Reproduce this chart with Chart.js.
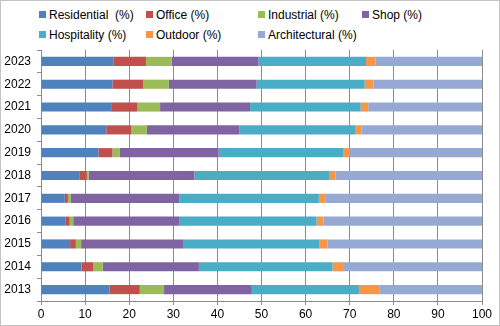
<!DOCTYPE html>
<html lang="en">
<head>
<meta charset="UTF-8">
<title>Share by sector</title>
<style>
    body { margin: 0; }
    .box {
        position: relative;
        width: 500px;
        height: 326px;
        border: 1px solid #c4c4c4;
        box-sizing: border-box;
        background: #fff;
        font-family: "Liberation Sans", Arial, sans-serif;
    }
    .legend span {
        position: absolute;
        font-size: 12px;
        color: #000;
        white-space: pre;
        line-height: 14px;
    }
    .legend i {
        display: inline-block;
        width: 7px;
        height: 7px;
        margin-right: 3px;
        vertical-align: 1px;
    }
    canvas { position: absolute; left: 0; top: 0; }
</style>
</head>
<body>
<div class="box">
    <div class="legend" id="legend"></div>
    <canvas id="myChart" width="498" height="324"></canvas>
</div>
<script src="https://cdn.jsdelivr.net/npm/chart.js@4/dist/chart.umd.min.js"></script>
<script>
    // years top to bottom, as in the picture
    const years = ['2023', '2022', '2021', '2020', '2019', '2018', '2017', '2016', '2015', '2014', '2013'];

    const residential   = [16.5, 16.2, 15.9, 14.8, 13.0, 8.8, 5.4, 5.5, 6.6, 9.2, 15.5];
    const office        = [7.3, 7.0, 6.0, 5.7, 3.2, 1.6, 0.7, 1.0, 1.3, 2.6, 6.9];
    const industrial    = [5.8, 5.8, 5.1, 3.5, 1.7, 0.4, 0.6, 0.8, 1.2, 2.2, 5.5];
    const shop          = [19.7, 19.9, 20.4, 21.0, 22.4, 24.0, 24.7, 24.0, 23.1, 21.8, 19.9];
    const hospitality   = [24.4, 24.5, 25.1, 26.2, 28.2, 30.5, 31.6, 31.2, 30.9, 30.3, 24.3];
    const outdoor       = [2.1, 2.0, 1.7, 1.5, 1.5, 1.5, 1.6, 1.6, 1.9, 2.6, 4.6];
    const architectural = [24.2, 24.6, 25.8, 27.3, 30.0, 33.2, 35.4, 35.9, 35.0, 31.3, 23.3];

    const xTicks = [0, 10, 20, 30, 40, 50, 60, 70, 80, 90, 100];

    const series = [
        { label: 'Residential  (%)', data: residential, color: '#4f81bd', x: 38, y: 7 },
        { label: 'Office (%)', data: office, color: '#c0504d', x: 145, y: 7 },
        { label: 'Industrial (%)', data: industrial, color: '#9bbb59', x: 257, y: 7 },
        { label: 'Shop (%)', data: shop, color: '#8064a2', x: 361, y: 7 },
        { label: 'Hospitality (%)', data: hospitality, color: '#4bacc6', x: 38, y: 27 },
        { label: 'Outdoor (%)', data: outdoor, color: '#f79646', x: 145, y: 27 },
        { label: 'Architectural (%)', data: architectural, color: '#95a9d2', x: 257, y: 27 }
    ];

    // legend in fixed columns like the original
    const leg = document.getElementById('legend');
    series.forEach(s => {
        const el = document.createElement('span');
        el.style.left = s.x + 'px';
        el.style.top = s.y + 'px';
        el.innerHTML = '<i style="background:' + s.color + '"></i>' + s.label;
        leg.appendChild(el);
    });

    const ctx = document.getElementById('myChart').getContext('2d');
    new Chart(ctx, {
        type: 'bar',
        data: {
            labels: years,
            datasets: series.map(s => ({
                label: s.label,
                data: s.data,
                backgroundColor: s.color,
                barPercentage: 0.4,
                categoryPercentage: 1
            }))
        },
        options: {
            indexAxis: 'y',
            responsive: false,
            animation: false,
            layout: { padding: { top: 49, right: 17, left: 0, bottom: 0 } },
            plugins: {
                legend: { display: false },
                tooltip: { enabled: false }
            },
            scales: {
                x: {
                    stacked: true,
                    min: 0,
                    max: 100,
                    afterBuildTicks: axis => { axis.ticks = xTicks.map(v => ({ value: v })); },
                    afterFit: axis => { axis.height = 24; },
                    grid: { color: '#8c8c8c', tickLength: 4, drawTicks: true },
                    border: { color: '#8c8c8c' },
                    ticks: { color: '#000', padding: 2, font: { family: 'Liberation Sans', size: 12 } }
                },
                y: {
                    stacked: true,
                    afterFit: axis => { axis.width = 40; },
                    grid: { drawOnChartArea: false, color: '#8c8c8c', tickLength: 4, offset: true },
                    border: { color: '#8c8c8c' },
                    ticks: { color: '#000', padding: 6, font: { family: 'Liberation Sans', size: 12 } }
                }
            }
        }
    });
</script>
</body>
</html>
